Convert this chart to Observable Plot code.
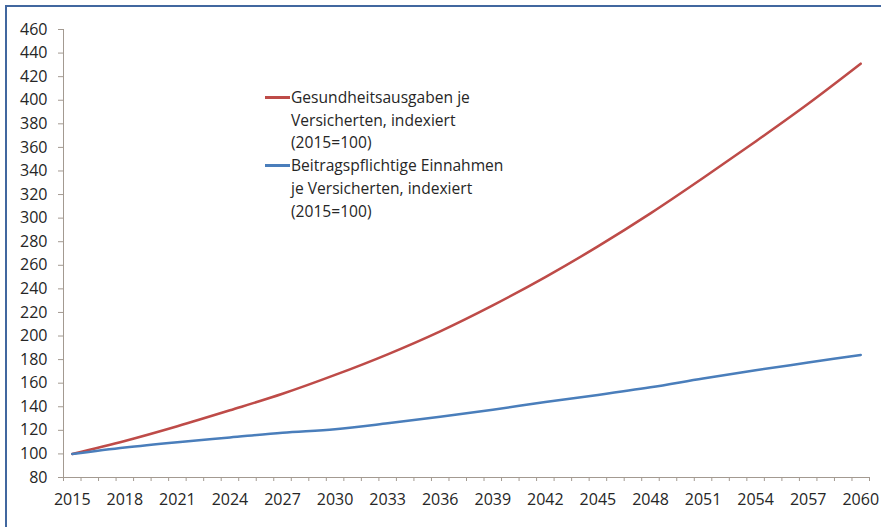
<!DOCTYPE html>
<html>
<head>
<meta charset="utf-8">
<script src="https://cdn.jsdelivr.net/npm/d3@7"></script>
<script src="https://cdn.jsdelivr.net/npm/@observablehq/plot@0.6"></script>
<style>
  html, body { margin: 0; padding: 0; background: #fff; }
  #wrap { position: relative; width: 881px; height: 527px; overflow: hidden; font-family: "Open Sans", "Liberation Sans", sans-serif; }
  #frame { position: absolute; left: 5px; top: 5px; width: 1000px; height: 1000px; border-top: 2px solid #41679f; border-left: 2px solid #41679f; pointer-events: none; }
  #chart { position: absolute; left: 0; top: 0; }
  #legend { position: absolute; left: 265px; top: 86px; font-size: 15.6px; line-height: 22.7px; color: #262626; }
  .item { position: relative; padding-left: 26px; }
  .sw { position: absolute; left: 0; top: 10px; width: 25px; height: 2.5px; }
</style>
</head>
<body>
<div id="wrap">
  <div id="chart"></div>
  <div id="legend"></div>
  <div id="frame"></div>
</div>
<script>
// Years (category axis, labels every 3 years)
const years = [2015, 2018, 2021, 2024, 2027, 2030, 2033, 2036, 2039, 2042, 2045, 2048, 2051, 2054, 2057, 2060];
// Gesundheitsausgaben je Versicherten, indexiert (2015=100)
const gesundheit = [100, 111, 123.5, 137, 151, 167, 184.5, 204, 226, 250, 276, 304, 334, 365, 397, 431];
// Beitragspflichtige Einnahmen je Versicherten, indexiert (2015=100)
const beitrag = [100, 105.5, 110, 114, 118, 121, 126, 131.5, 137.5, 144, 150, 156.5, 164, 171, 177.5, 184];
const seriesNames = [
  "Gesundheitsausgaben je Versicherten, indexiert (2015=100)",
  "Beitragspflichtige Einnahmen je Versicherten, indexiert (2015=100)"
];
const seriesLegend = [
  ["Gesundheitsausgaben je", "Versicherten, indexiert", "(2015=100)"],
  ["Beitragspflichtige Einnahmen", "je Versicherten, indexiert", "(2015=100)"]
];
const seriesColors = ["#be4b48", "#4a7ebb"];
const yTicks = [80, 100, 120, 140, 160, 180, 200, 220, 240, 260, 280, 300, 320, 340, 360, 380, 400, 420, 440, 460];
const xLabels = [2015, 2018, 2021, 2024, 2027, 2030, 2033, 2036, 2039, 2042, 2045, 2048, 2051, 2054, 2057, 2060];

const firstYear = 2015, lastYear = 2060;
const boundaries = d3.range(firstYear - 0.5, lastYear + 1, 1);

const data = [];
years.forEach((y, i) => {
  data.push({year: y, value: gesundheit[i], series: seriesNames[0]});
  data.push({year: y, value: beitrag[i], series: seriesNames[1]});
});

const axisColor = "#a39a91";
const textColor = "#262626";

const chart = Plot.plot({
  width: 881,
  height: 527,
  marginLeft: 63,
  marginRight: 12,
  marginTop: 29,
  marginBottom: 50,
  style: {fontFamily: "'Open Sans', 'Liberation Sans', sans-serif", fontSize: "16px", color: textColor, background: "transparent"},
  x: {domain: [firstYear - 0.5, lastYear + 0.5]},
  y: {domain: [80, 460]},
  color: {domain: seriesNames, range: seriesColors},
  marks: [
    Plot.axisY({ticks: yTicks, tickSize: 5, tickPadding: 11, tickFormat: d => String(d), stroke: axisColor, fill: textColor, fontSize: 16, label: null}),
    Plot.axisX({ticks: boundaries, tickSize: 4, tickFormat: () => "", stroke: axisColor, label: null}),
    Plot.axisX({ticks: xLabels, tickSize: 0, tickPadding: 16, tickFormat: d => String(d), fill: textColor, fontSize: 16, label: null}),
    Plot.ruleY([80], {stroke: axisColor}),
    Plot.ruleX([firstYear - 0.5], {stroke: axisColor}),
    Plot.line(data, {x: "year", y: "value", stroke: "series", strokeWidth: 2.5, curve: "monotone-x"})
  ]
});
document.getElementById("chart").appendChild(chart);

const legend = document.getElementById("legend");
seriesLegend.forEach((lines, i) => {
  const item = document.createElement("div");
  item.className = "item";
  const sw = document.createElement("div");
  sw.className = "sw";
  sw.style.background = seriesColors[i];
  item.appendChild(sw);
  lines.forEach(t => {
    const l = document.createElement("div");
    l.textContent = t;
    item.appendChild(l);
  });
  legend.appendChild(item);
});
</script>
</body>
</html>
